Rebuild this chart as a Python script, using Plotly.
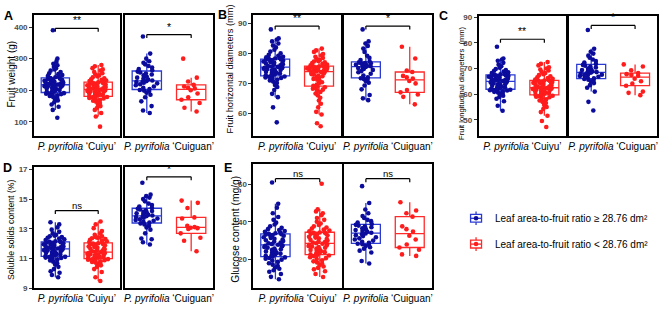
import plotly.graph_objects as go

W, H = 660, 310
FONT = "Liberation Sans, Arial, sans-serif"
BLUE_PT, BLUE_LN = "#0c0c9c", "#2a3ad2"
RED_PT, RED_LN = "#ff1c1c", "#ff2a2a"

cultivars = ["Cuiyu", "Cuiguan"]
groups = ["Leaf area-to-fruit ratio \u2265 28.76 dm\u00b2",
          "Leaf area-to-fruit ratio < 28.76 dm\u00b2"]

# ---------------- A: Fruit weight (g) ----------------
fw_cuiyu_hi = [113, 138, 148, 155, 162, 168, 172, 176, 179, 182, 184, 186, 188, 189, 190, 191,
               193, 195, 197, 199, 201, 203, 204, 206, 207, 209, 210, 211, 212, 213, 214, 215,
               217, 218, 219, 220, 221, 222, 224, 225, 226, 227, 229, 230, 231, 232, 234, 235, 237,
               239, 241, 243, 245, 248, 251, 254, 258, 262, 266, 270, 274, 279, 284, 290, 300, 390]
fw_cuiyu_lo = [85, 117, 128, 138, 145, 150, 155, 160, 164, 167, 170, 172, 174, 176, 178, 179, 180,
               182, 183, 185, 186, 188, 189, 191, 192, 194, 195, 196, 197, 198, 199, 200, 201, 202,
               204, 205, 206, 208, 209, 210, 212, 213, 214, 216, 217, 218, 220, 221, 222, 224, 225,
               227, 229, 231, 233, 235, 238, 241, 244, 247, 250, 254, 258, 262, 266, 270, 276, 280]
fw_cuiguan_hi = [128, 136, 150, 165, 178, 186, 192, 196, 199, 201,
                 204, 208, 212, 216, 219, 222, 224, 226, 228, 229,
                 231, 234, 237, 240, 243, 247, 250, 253, 256, 259,
                 263, 267, 272, 277, 282, 287, 292, 300, 316, 370]
fw_cuiguan_lo = [133, 145, 160, 170, 178, 190, 200, 206, 208, 212, 217, 228, 240, 300]

# ---------------- B: Fruit horizontal diameters (mm) ----------------
hd_cuiyu_hi = [57, 62, 65.4, 66.5, 67.8, 68.8, 69.5, 70.1, 70.6, 71, 71.3, 71.6, 71.8, 72, 72.2, 72.3,
               72.5, 72.7, 72.9, 73.1, 73.3, 73.5, 73.7, 73.9, 74.1, 74.3, 74.5, 74.6, 74.8, 74.9, 75.1, 75.2, 75.3,
               75.5, 75.6, 75.8, 76, 76.2, 76.4, 76.6, 76.7, 76.9, 77.1, 77.3, 77.5, 77.6, 77.8, 77.9, 78, 78.1,
               78.3, 78.5, 78.7, 78.9, 79.2, 79.5, 80, 80.6, 81.2, 82, 82.6, 83.3, 84, 84.6, 85, 88]
hd_cuiyu_lo = [55.7, 56.7, 59.6, 60.5, 62, 63.2, 64.3, 65.2, 66, 66.6, 67.1, 67.5, 67.9, 68.2, 68.5, 68.7, 68.9,
               69.2, 69.6, 70, 70.4, 70.8, 71.2, 71.5, 71.8, 72.1, 72.4, 72.6, 72.9, 73.1, 73.3, 73.5, 73.7, 73.8,
               74, 74.1, 74.2, 74.3, 74.5, 74.6, 74.7, 74.8, 74.9, 75, 75.1, 75.2, 75.3, 75.4, 75.5, 75.6, 75.65,
               75.8, 76, 76.3, 76.5, 76.8, 77, 77.3, 77.5, 77.8, 78.1, 78.5, 78.9, 79.3, 79.8, 80.5, 81, 81.6]
hd_cuiguan_hi = [64.4, 65, 66.1, 68, 69.3, 70.2, 70.8, 71.2, 71.5, 71.7,
                 72, 72.6, 73.2, 73.7, 74.1, 74.5, 74.8, 75.1, 75.3, 75.5,
                 75.7, 75.8, 76, 76.2, 76.4, 76.5, 76.7, 76.8, 76.9, 77,
                 77.3, 77.8, 78.5, 79.2, 80.5, 81.6, 82.5, 83.3, 84, 88]
hd_cuiguan_lo = [63, 65.5, 66.3, 67, 67.8, 70, 70.8, 71.6, 72, 72.5, 73.8, 74.3, 78.3, 82.2]

# ---------------- C: Fruit longitudinal diameters (mm) ----------------
ld_cuiyu_hi = [53.5, 55.5, 57.2, 58.2, 58.9, 59.4, 59.9, 60.3, 60.6, 60.9, 61.1, 61.3, 61.4, 61.5, 61.6, 61.7,
               61.9, 62.1, 62.3, 62.5, 62.7, 62.9, 63.1, 63.3, 63.5, 63.7, 63.9, 64.1, 64.3, 64.5, 64.6, 64.8, 64.9,
               65.1, 65.3, 65.5, 65.6, 65.8, 66, 66.2, 66.3, 66.5, 66.7, 66.8, 67, 67.1, 67.2, 67.3, 67.4, 67.5,
               67.7, 67.9, 68.2, 68.5, 68.8, 69.1, 69.4, 69.8, 70.3, 70.9, 71.5, 72.2, 73, 73.5, 73.9, 78.5]
ld_cuiyu_lo = [47.2, 49.5, 51.6, 53, 54.2, 55, 55.8, 56.5, 57, 57.5, 58, 58.4, 58.8, 59, 59.2, 59.4, 59.6,
               59.8, 60, 60.2, 60.4, 60.6, 60.8, 61, 61.2, 61.4, 61.5, 61.7, 61.8, 62, 62.1, 62.2, 62.3, 62.4,
               62.6, 62.8, 63, 63.2, 63.4, 63.6, 63.8, 64, 64.2, 64.4, 64.6, 64.7, 64.9, 65, 65.1, 65.2, 65.3,
               65.5, 65.7, 66, 66.3, 66.6, 67, 67.4, 67.8, 68.2, 68.7, 69.2, 69.6, 70, 70.5, 71.2, 71.8, 72.5]
ld_cuiguan_hi = [53.6, 57, 61, 62.5, 63.5, 64.3, 64.9, 65.3, 65.6, 65.9,
                 66.2, 66.5, 66.8, 67.1, 67.4, 67.6, 67.8, 68, 68.2, 68.4,
                 68.6, 68.8, 69.1, 69.4, 69.7, 70, 70.4, 70.8, 71.1, 71.4,
                 71.8, 72.3, 72.9, 73.5, 74.2, 75, 75.8, 76.5, 77.7, 85]
ld_cuiguan_lo = [59.6, 60.5, 61, 63.3, 64.1, 65, 66, 67.2, 67.5, 67.8, 68.2, 69.3, 70.8, 71.6]

# ---------------- D: Soluble solids content (%) ----------------
ss_cuiyu_hi = [9.75, 9.9, 10.05, 10.15, 10.3, 10.45, 10.6, 10.7, 10.8, 10.88, 10.95, 11, 11.04, 11.07, 11.1, 11.12,
               11.15, 11.18, 11.21, 11.25, 11.28, 11.32, 11.35, 11.39, 11.42, 11.45, 11.48, 11.51, 11.54, 11.57, 11.6, 11.62, 11.64,
               11.68, 11.7, 11.73, 11.76, 11.79, 11.82, 11.85, 11.88, 11.91, 11.94, 11.97, 12, 12.03, 12.06, 12.09, 12.11, 12.13,
               12.16, 12.2, 12.25, 12.3, 12.35, 12.4, 12.45, 12.5, 12.55, 12.6, 12.7, 12.8, 12.95, 13.1, 13.3, 13.45]
ss_cuiyu_lo = [9.5, 9.75, 10.1, 10.3, 10.45, 10.55, 10.62, 10.68, 10.73, 10.78, 10.82, 10.86, 10.9, 10.93, 10.95, 10.97, 10.99,
               11.02, 11.05, 11.08, 11.1, 11.13, 11.15, 11.18, 11.2, 11.23, 11.25, 11.28, 11.3, 11.33, 11.36, 11.38, 11.4, 11.42,
               11.46, 11.5, 11.54, 11.58, 11.62, 11.66, 11.7, 11.74, 11.78, 11.82, 11.86, 11.9, 11.93, 11.96, 11.99, 12.01, 12.04,
               12.07, 12.12, 12.17, 12.22, 12.27, 12.32, 12.37, 12.4, 12.42, 12.45, 12.5, 12.6, 12.7, 12.85, 13.05, 13.3, 13.5]
ss_cuiguan_hi = [11.95, 12.1, 12.3, 12.35, 12.7, 12.95, 13.1, 13.2, 13.3, 13.37,
                 13.42, 13.48, 13.55, 13.6, 13.65, 13.7, 13.75, 13.8, 13.83, 13.86,
                 13.9, 13.95, 14, 14.05, 14.1, 14.15, 14.2, 14.25, 14.3, 14.35,
                 14.42, 14.5, 14.6, 14.7, 14.85, 15, 15.1, 15.2, 15.3, 16.1]
ss_cuiguan_lo = [11.5, 12.2, 12.4, 12.7, 13.0, 13.05, 13.08, 13.12, 13.2, 13.7, 13.77, 14.4, 14.75, 14.9]

# ---------------- E: Glucose content (mg/g) ----------------
gl_cuiyu_hi = [9.2, 10.5, 12, 13.2, 14, 14.8, 15.5, 16.3, 17, 17.8, 18.5, 19.1, 19.7, 20.2, 20.6, 20.9,
               21.3, 21.7, 22.1, 22.5, 22.9, 23.3, 23.7, 24.1, 24.5, 24.9, 25.3, 25.7, 26.1, 26.5, 26.8, 27.1, 27.4,
               27.7, 28.1, 28.5, 28.9, 29.3, 29.7, 30.1, 30.5, 30.9, 31.3, 31.7, 32.1, 32.5, 32.8, 33.1, 33.3, 33.5,
               33.8, 34.2, 34.6, 35, 35.5, 36, 36.7, 37.5, 38.5, 39.5, 41, 42.5, 44.5, 47.5, 49.6, 61]
gl_cuiyu_lo = [10.4, 12, 13.5, 14.5, 15.3, 16, 16.8, 17.5, 18.2, 18.8, 19.4, 20, 20.5, 21, 21.5, 21.9, 22.2,
               22.5, 22.9, 23.3, 23.7, 24.1, 24.5, 24.9, 25.3, 25.7, 26.1, 26.4, 26.7, 27, 27.3, 27.6, 27.9, 28.2,
               28.5, 28.8, 29.1, 29.5, 29.9, 30.3, 30.7, 31.1, 31.5, 31.9, 32.3, 32.7, 33.1, 33.5, 33.8, 34.0, 34.2,
               34.5, 34.9, 35.3, 35.8, 36.3, 36.9, 37.5, 38.2, 39, 40, 41, 42, 43.5, 44.5, 45.5, 46.6, 60.3]
gl_cuiguan_hi = [17.6, 19, 23.5, 24.5, 25.5, 26.3, 27, 27.5, 27.9, 28.2,
                 28.7, 29.3, 29.9, 30.5, 31.1, 31.7, 32.3, 32.8, 33.3, 33.7,
                 34.1, 34.6, 35, 35.5, 36, 36.5, 37, 37.5, 37.9, 38.3,
                 38.8, 39.5, 40.3, 41, 42, 43, 44.5, 46.5, 50, 59]
gl_cuiguan_lo = [21.7, 22.5, 25, 26.2, 27.8, 30.5, 32.5, 34.7, 36, 37.5, 42.7, 44.5, 46, 50.4]

# significance labels per panel (Cuiyu, Cuiguan)
sig_A, sig_B, sig_C, sig_D, sig_E = ["**", "*"], ["**", "*"], ["**", "*"], ["ns", "*"], ["ns", "ns"]

panels = [
    dict(letter="A", title="Fruit weight (g)",
         data=[[fw_cuiyu_hi, fw_cuiyu_lo], [fw_cuiguan_hi, fw_cuiguan_lo]],
         sig=sig_A, sig_y=[396, 376], tickvals=[100, 200, 300, 400], yrange=[54, 439],
         xdom=[(33, 119), (124, 213)], ydom=(12, 137), title_xy=(10.5, 73), title_size=10, letter_xy=(8, 13)),
    dict(letter="B", title="Fruit horizontal diameters (mm)",
         data=[[hd_cuiyu_hi, hd_cuiyu_lo], [hd_cuiguan_hi, hd_cuiguan_lo]],
         sig=sig_B, sig_y=[89.1, 89.1], tickvals=[60, 70, 80, 90], yrange=[52.3, 92.9],
         xdom=[(253, 341), (344, 432)], ydom=(12, 137), title_xy=(230, 68), title_size=9.3, letter_xy=(222, 12.5)),
    dict(letter="C", title="Fruit longitudinal diameters  (mm)",
         data=[[ld_cuiyu_hi, ld_cuiyu_lo], [ld_cuiguan_hi, ld_cuiguan_lo]],
         sig=sig_C, sig_y=[81.4, 86.8], tickvals=[50, 60, 70, 80, 90], yrange=[43.5, 90.6],
         xdom=[(479, 567), (570, 658)], ydom=(13, 137), title_xy=(462.5, 82), title_size=7.6, letter_xy=(444, 13)),
    dict(letter="D", title="Soluble solids content (%)",
         data=[[ss_cuiyu_hi, ss_cuiyu_lo], [ss_cuiguan_hi, ss_cuiguan_lo]],
         sig=sig_D, sig_y=[14.23, 16.5], tickvals=[9, 11, 13, 15, 17], yrange=[9.0, 17.18],
         xdom=[(33, 119), (124, 213)], ydom=(168, 293), title_xy=(10, 232), title_size=8.7, letter_xy=(6.5, 169)),
    dict(letter="E", title="Glucose content (mg/g)",
         data=[[gl_cuiyu_hi, gl_cuiyu_lo], [gl_cuiguan_hi, gl_cuiguan_lo]],
         sig=sig_E, sig_y=[63, 63], tickvals=[20, 40, 60], yrange=[4.3, 71],
         xdom=[(253, 342), (344, 432)], ydom=(165, 293), title_xy=(234.5, 232), title_size=10.3, letter_xy=(227.5, 169)),
]

fig = go.Figure()
layout_axes = {}
annotations = []
shapes = []
pt_colors = [BLUE_PT, RED_PT]
ln_colors = [BLUE_LN, RED_LN]

k = 0
for P in panels:
    for ci in range(2):
        k += 1
        xa = "x" if k == 1 else f"x{k}"
        ya = "y" if k == 1 else f"y{k}"
        xkey = "xaxis" if k == 1 else f"xaxis{k}"
        ykey = "yaxis" if k == 1 else f"yaxis{k}"
        for gi in range(2):
            vals = P["data"][ci][gi]
            fig.add_trace(go.Box(
                y=vals, x0=gi, width=0.66, name=groups[gi],
                boxpoints="all", jitter=0.85, pointpos=0,
                marker=dict(color=pt_colors[gi], size=4.6, line=dict(width=0)),
                line=dict(color=ln_colors[gi], width=1.3),
                fillcolor="rgba(0,0,0,0)", whiskerwidth=0,
                xaxis=xa, yaxis=ya, showlegend=False, hoverinfo="y"))
        x0, x1 = P["xdom"][ci]
        y0, y1 = P["ydom"]
        layout_axes[xkey] = dict(
            domain=[x0 / W, x1 / W], range=[-0.5, 1.5], anchor=ya,
            showline=True, mirror=True, linecolor="black", linewidth=1.5,
            showgrid=False, zeroline=False, tickmode="array", tickvals=[0.5],
            ticktext=[f"<i>P. pyrifolia</i> \u2018{cultivars[ci]}\u2019"], ticks="",
            tickfont=dict(size=10, color="black", family=FONT), fixedrange=True)
        yd = dict(domain=[1 - y1 / H, 1 - y0 / H], range=P["yrange"], anchor=xa,
                  showline=True, mirror=True, linecolor="black", linewidth=1.5,
                  showgrid=False, zeroline=False, fixedrange=True)
        if ci == 0:
            yd.update(tickmode="array", tickvals=P["tickvals"], ticks="outside", ticklen=3,
                      tickwidth=1, tickcolor="#333333",
                      tickfont=dict(size=8, color="#4d4d4d", family=FONT, weight="bold"))
        else:
            yd.update(showticklabels=False, ticks="")
        layout_axes[ykey] = yd

        # significance bracket
        sy = P["sig_y"][ci]
        shapes.append(dict(type="line", xref=xa, yref=ya, x0=0, x1=1, y0=sy, y1=sy,
                           line=dict(color="black", width=1.2)))
        for xv in (0, 1):
            shapes.append(dict(type="line", xref=xa, yref=ya, x0=xv, x1=xv,
                               ysizemode="pixel", yanchor=sy, y0=-3.5, y1=0,
                               line=dict(color="black", width=1.2)))
        s = P["sig"][ci]
        annotations.append(dict(text=s, x=0.5, y=sy, xref=xa, yref=ya, showarrow=False,
                                yanchor="bottom", yshift=(-2 if s == "ns" else 0),
                                font=dict(size=9.5 if s == "ns" else 10.5, color="black", family=FONT)))

    # y-axis title
    tx, ty = P["title_xy"]
    annotations.append(dict(text=P["title"], x=tx / W, y=1 - ty / H, xref="paper", yref="paper",
                            textangle=-90, showarrow=False, xanchor="center", yanchor="middle",
                            font=dict(size=P["title_size"], color="black", family=FONT)))
    lx, ly = P["letter_xy"]
    annotations.append(dict(text=f"<b>{P['letter']}</b>", x=lx / W, y=1 - ly / H, xref="paper", yref="paper",
                            showarrow=False, xanchor="center", yanchor="middle",
                            font=dict(size=12.5, color="black", family=FONT)))

# custom legend (box key with point)
leg_rows = [221, 247.5]
for gi in range(2):
    cy = leg_rows[gi]
    cx = 476.5
    c = ln_colors[gi]
    shapes.append(dict(type="rect", xref="paper", yref="paper",
                       x0=(cx - 5.5) / W, x1=(cx + 5.5) / W, y0=1 - (cy + 4) / H, y1=1 - (cy - 4) / H,
                       line=dict(color=c, width=1.3), fillcolor="white"))
    shapes.append(dict(type="line", xref="paper", yref="paper", x0=cx / W, x1=cx / W,
                       y0=1 - (cy - 7) / H, y1=1 - (cy - 4) / H, line=dict(color=c, width=1.3)))
    shapes.append(dict(type="line", xref="paper", yref="paper", x0=cx / W, x1=cx / W,
                       y0=1 - (cy + 4) / H, y1=1 - (cy + 7) / H, line=dict(color=c, width=1.3)))
    shapes.append(dict(type="line", xref="paper", yref="paper", x0=(cx - 5.5) / W, x1=(cx + 5.5) / W,
                       y0=1 - cy / H, y1=1 - cy / H, line=dict(color=c, width=1.3)))
    shapes.append(dict(type="circle", xref="paper", yref="paper",
                       x0=(cx - 2.3) / W, x1=(cx + 2.3) / W, y0=1 - (cy + 2.3) / H, y1=1 - (cy - 2.3) / H,
                       line=dict(width=0), fillcolor=pt_colors[gi]))
    annotations.append(dict(text=groups[gi], x=493 / W, y=1 - cy / H, xref="paper", yref="paper",
                            showarrow=False, xanchor="left", yanchor="middle",
                            font=dict(size=10, color="black", family=FONT)))

fig.update_layout(
    width=W, height=H, margin=dict(l=0, r=0, t=0, b=0),
    paper_bgcolor="white", plot_bgcolor="white", boxmode="overlay",
    font=dict(family=FONT), showlegend=False,
    annotations=annotations, shapes=shapes, **layout_axes)

fig.write_html("out.html", config={"displayModeBar": False},
               post_script="document.body.style.margin='0';document.body.style.padding='0';")
